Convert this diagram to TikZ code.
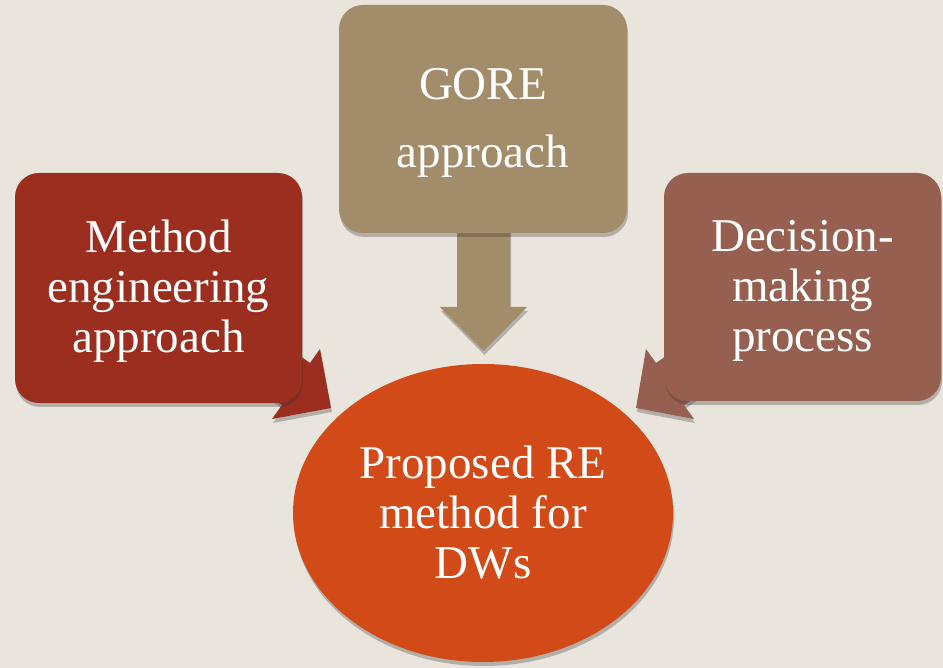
\documentclass[tikz,border=0pt]{standalone}
\usepackage{fontspec}
\setmainfont{Liberation Serif}
\usetikzlibrary{shadows,shapes.geometric}
\definecolor{bgc}{HTML}{E9E5DD}
\definecolor{redc}{HTML}{9C2E1F}
\definecolor{tanc}{HTML}{A38C6A}
\definecolor{brownc}{HTML}{975F4F}
\definecolor{orangec}{HTML}{D24A18}
\newcommand\mystrut{\rule{0pt}{40pt}}
\begin{document}
\begin{tikzpicture}[x=1pt,y=-1pt,
  shad/.style={drop shadow={shadow xshift=1pt,shadow yshift=-4pt,opacity=0.3,fill=black!80}},
  boxnode/.style={rectangle,rounded corners=24pt,inner sep=0pt,align=center,text=white,
    font=\fontsize{47}{50}\selectfont,shad},
  ellnode/.style={ellipse,inner sep=0pt,align=center,text=white,
    font=\fontsize{47}{50}\selectfont,shad}]
\fill[bgc] (0,0) rectangle (943,668);
\useasboundingbox (0,0) rectangle (943,668);
% left arrow
\coordinate (ls1) at (228,306);
\coordinate (ln1) at (310,363);
\coordinate (lb1) at (320,349);
\coordinate (lt) at (331,408);
\coordinate (lb2) at (272,419);
\coordinate (ln2) at (282,405);
\coordinate (ls2) at (200,348);
\fill[redc,shad] (ls1) -- (ln1) -- (lb1) -- (lt) -- (lb2) -- (ln2) -- (ls2) -- cycle;
% right arrow
\coordinate (rs1) at (738,306);
\coordinate (rn1) at (656,363);
\coordinate (rb1) at (646,349);
\coordinate (rt) at (636,408);
\coordinate (rb2) at (694,419);
\coordinate (rn2) at (684,405);
\coordinate (rs2) at (766,348);
\fill[brownc,shad] (rs1) -- (rn1) -- (rb1) -- (rt) -- (rb2) -- (rn2) -- (rs2) -- cycle;
% top arrow
\coordinate (ts1) at (457,150);
\coordinate (tn1) at (457,307);
\coordinate (tb1) at (440,307);
\coordinate (tt) at (483.5,351);
\coordinate (tb2) at (527,307);
\coordinate (tn2) at (510,307);
\coordinate (ts2) at (510,150);
\fill[tanc,shad] (ts1) -- (tn1) -- (tb1) -- (tt) -- (tb2) -- (tn2) -- (ts2) -- cycle;
% boxes
\node[boxnode,fill=redc,minimum width=287pt,minimum height=230pt] (me) at (158.5,288)
  {\mystrut Method\\engineering\\approach};
\node[boxnode,fill=tanc,minimum width=288pt,minimum height=228pt] (gore) at (483,119)
  {\mystrut GORE\\[18pt]approach};
\node[boxnode,fill=brownc,minimum width=277pt,minimum height=228pt] (dm) at (802.5,287)
  {\mystrut Decision-\\making\\process};
% ellipse
\node[ellnode,fill=orangec,minimum width=380pt,minimum height=298pt] (re) at (483,513)
  {Proposed RE\\method for\\DWs};
\end{tikzpicture}
\end{document}
